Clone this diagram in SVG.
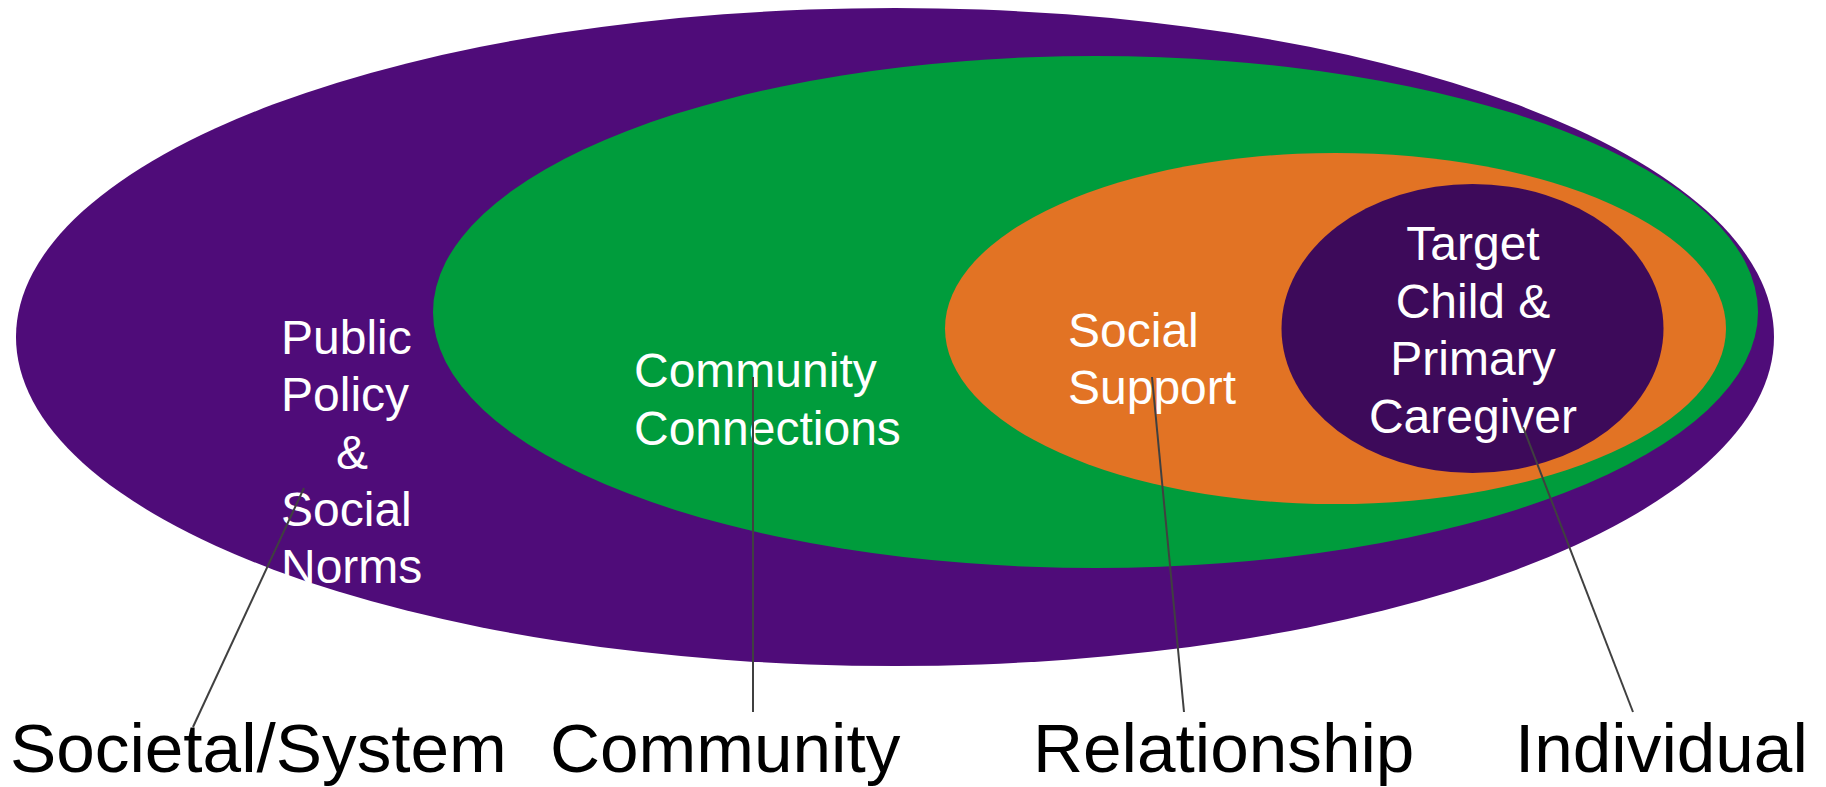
<svg xmlns="http://www.w3.org/2000/svg" width="1826" height="787" viewBox="0 0 1826 787">
<style>
.lbl{font-family:"Liberation Sans",Arial,sans-serif;fill:#ffffff;font-size:48px}
.cap{font-family:"Liberation Sans",Arial,sans-serif;fill:#000000;font-size:69.3px}
.lead{stroke:#404040;stroke-width:2;fill:none}
</style>
<rect width="1826" height="787" fill="#ffffff"/>
<g id="societal">
<ellipse cx="895" cy="337" rx="879" ry="329" fill="#4f0c79"/>
<text class="lbl" x="281" y="354">Public</text>
<text class="lbl" x="281" y="411">Policy</text>
<text class="lbl" x="352" y="469" text-anchor="middle">&amp;</text>
<text class="lbl" x="281" y="526">Social</text>
<text class="lbl" x="281" y="583">Norms</text>
</g>
<g id="community">
<ellipse cx="1095.5" cy="312" rx="662.5" ry="256" fill="#009c3c"/>
<text class="lbl" x="634" y="387">Community</text>
<text class="lbl" x="634" y="445">Connections</text>
</g>
<g id="relationship">
<ellipse cx="1335.5" cy="328.5" rx="390.5" ry="175.5" fill="#e27324"/>
<text class="lbl" x="1068" y="347">Social</text>
<text class="lbl" x="1068" y="404">Support</text>
</g>
<g id="individual">
<ellipse cx="1472.5" cy="328.5" rx="191" ry="144.5" fill="#3d0a5a"/>
<text class="lbl" x="1473" y="260" text-anchor="middle">Target</text>
<text class="lbl" x="1473" y="318" text-anchor="middle">Child &amp;</text>
<text class="lbl" x="1473" y="375" text-anchor="middle">Primary</text>
<text class="lbl" x="1473" y="433" text-anchor="middle">Caregiver</text>
</g>
<g id="connectors">
<line class="lead" x1="304" y1="488" x2="193" y2="727"/>
<line class="lead" x1="753" y1="377" x2="753" y2="712"/>
<line class="lead" x1="1152" y1="377" x2="1184" y2="712"/>
<line class="lead" x1="1523" y1="427" x2="1633" y2="712"/>
</g>
<g id="captions">
<text class="cap" x="10" y="772">Societal/System</text>
<text class="cap" x="550" y="772">Community</text>
<text class="cap" x="1033" y="772">Relationship</text>
<text class="cap" x="1515" y="772">Individual</text>
</g>
</svg>
